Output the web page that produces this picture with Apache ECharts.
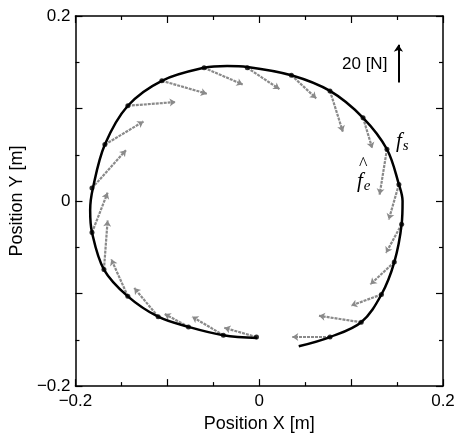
<!DOCTYPE html>
<html lang="en">

<head>
    <meta charset="UTF-8">
    <title>Position X-Y</title>
    <script src="https://cdn.jsdelivr.net/npm/echarts@6/dist/echarts.min.js"></script>
    <style>
        body {
            margin: 0;
            background: #fff;
        }

        .box {
            width: 459px;
            height: 438px;
        }
    </style>
</head>

<body>
    <div class="box"></div>

    <script>
        // hand trajectory (counter-clockwise, starts lower right)
        var pathX = [0.043, 0.077, 0.111, 0.133, 0.147, 0.155, 0.156, 0.152, 0.139, 0.113, 0.077, 0.035, -0.013, -0.035, -0.060, -0.106, -0.143, -0.168, -0.181, -0.184, -0.182, -0.169, -0.143, -0.110, -0.077, -0.039, -0.002];
        var pathY = [-0.157, -0.147, -0.131, -0.101, -0.066, -0.025, 0.000, 0.018, 0.056, 0.090, 0.119, 0.136, 0.145, 0.146, 0.144, 0.130, 0.103, 0.061, 0.014, -0.010, -0.034, -0.074, -0.103, -0.125, -0.136, -0.145, -0.148];

        // sample points on the path and the tip of the force arrow drawn from each
        var dotX = [-0.182, -0.168, -0.143, -0.106, -0.060, -0.013, 0.035, 0.077, 0.113, 0.139, 0.152, 0.155, 0.147, 0.133, 0.111, 0.077, -0.003, -0.039, -0.077, -0.110, -0.143, -0.169, -0.182];
        var dotY = [0.014, 0.061, 0.103, 0.130, 0.144, 0.144, 0.136, 0.119, 0.090, 0.056, 0.018, -0.025, -0.066, -0.101, -0.131, -0.147, -0.147, -0.145, -0.136, -0.125, -0.103, -0.074, -0.034];
        var tipX = [-0.145, -0.126, -0.091, -0.057, -0.018, 0.022, 0.062, 0.091, 0.123, 0.131, 0.141, 0.138, 0.121, 0.100, 0.065, 0.036, -0.038, -0.073, -0.103, -0.136, -0.161, -0.165, -0.165];
        var tipY = [0.055, 0.086, 0.107, 0.116, 0.126, 0.121, 0.111, 0.075, 0.057, 0.007, -0.020, -0.056, -0.090, -0.113, -0.124, -0.147, -0.137, -0.125, -0.122, -0.094, -0.063, -0.021, 0.009];

        // 20 N scale arrow
        var scaleX = [0.1515, 0.1515];
        var scaleY = [0.128, 0.169];

        var tickLabels = ['−0.2', '0', '0.2'];

        var curve = pathX.map(function(x, i) {
            return [x, pathY[i]];
        });
        var dots = dotX.map(function(x, i) {
            return [x, dotY[i]];
        });
        var arrows = dotX.map(function(x, i) {
            return {
                coords: [[x, dotY[i]], [tipX[i], tipY[i]]]
            };
        });

        function fmt(v) {
            if (Math.abs(v) < 1e-9) return tickLabels[1];
            if (Math.abs(v + 0.2) < 1e-9) return tickLabels[0];
            if (Math.abs(v - 0.2) < 1e-9) return tickLabels[2];
            return '';
        }

        var font = 'Liberation Sans, Arial, sans-serif';
        var axisBase = {
            type: 'value',
            min: -0.2,
            max: 0.2,
            interval: 0.1,
            splitLine: { show: false },
            axisLine: { show: true, onZero: false, lineStyle: { color: '#000', width: 1.5 } },
            axisTick: { show: true, inside: true, length: 7, lineStyle: { color: '#000', width: 1.2 } },
            minorTick: { show: true, splitNumber: 2, length: 4, lineStyle: { color: '#000', width: 1.2 } }
        };

        var myChart = echarts.init(document.querySelector('.box'));

        var option = {
            animation: false,
            grid: { left: 74, right: 16, top: 16, bottom: 51 },
            xAxis: [
                Object.assign({}, axisBase, {
                    position: 'bottom',
                    name: 'Position X [m]',
                    nameLocation: 'middle',
                    nameGap: 25,
                    nameTextStyle: { fontSize: 18, color: '#000', fontFamily: font },
                    axisLabel: { formatter: fmt, margin: 7, fontSize: 17, color: '#000', fontFamily: font }
                }),
                Object.assign({}, axisBase, {
                    position: 'top',
                    axisLabel: { show: false }
                })
            ],
            yAxis: [
                Object.assign({}, axisBase, {
                    position: 'left',
                    name: 'Position Y [m]',
                    nameLocation: 'middle',
                    nameGap: 47,
                    nameTextStyle: { fontSize: 18, color: '#000', fontFamily: font },
                    axisLabel: { formatter: fmt, margin: 5, fontSize: 17, color: '#000', fontFamily: font }
                }),
                Object.assign({}, axisBase, {
                    position: 'right',
                    axisLabel: { show: false }
                })
            ],
            series: [{
                type: 'lines',
                coordinateSystem: 'cartesian2d',
                data: arrows,
                symbol: ['none', 'arrow'],
                symbolSize: 6,
                lineStyle: { color: '#8a8a8a', width: 2.2, type: [3, 1], opacity: 1 }
            }, {
                type: 'line',
                data: curve,
                smooth: 0.35,
                showSymbol: false,
                lineStyle: { color: '#000', width: 2.5 }
            }, {
                type: 'scatter',
                data: dots,
                symbolSize: 5,
                itemStyle: { color: '#000' }
            }, {
                type: 'lines',
                coordinateSystem: 'cartesian2d',
                data: [{ coords: [[scaleX[0], scaleY[0]], [scaleX[1], scaleY[1]]] }],
                symbol: ['none', 'arrow'],
                symbolSize: 7,
                lineStyle: { color: '#000', width: 2, opacity: 1 }
            }],
            graphic: [{
                type: 'text',
                left: 342,
                top: 56,
                style: { text: '20 [N]', fontSize: 17, fill: '#000', fontFamily: font }
            }, {
                type: 'text',
                left: 396,
                top: 131,
                style: {
                    text: '{f|f}{s|s}',
                    rich: {
                        f: { fontSize: 21, fontStyle: 'italic', fontFamily: 'Liberation Serif, serif', fill: '#000' },
                        s: { fontSize: 15, fontStyle: 'italic', fontFamily: 'Liberation Serif, serif', fill: '#000', padding: [9, 0, 0, 1] }
                    }
                }
            }, {
                type: 'text',
                left: 357,
                top: 171,
                style: {
                    text: '{f|f}{s|e}',
                    rich: {
                        f: { fontSize: 21, fontStyle: 'italic', fontFamily: 'Liberation Serif, serif', fill: '#000' },
                        s: { fontSize: 15, fontStyle: 'italic', fontFamily: 'Liberation Serif, serif', fill: '#000', padding: [9, 0, 0, 1] }
                    }
                }
            }, {
                type: 'text',
                left: 359,
                top: 156,
                style: { text: '^', fontSize: 18, fill: '#000', fontFamily: 'Liberation Serif, serif' }
            }]
        };

        myChart.setOption(option);
    </script>
</body>

</html>
